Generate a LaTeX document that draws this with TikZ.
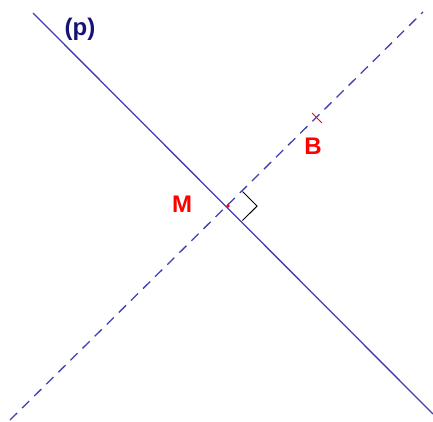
\documentclass[tikz,border=0pt]{standalone}
\usepackage{fontspec}
\setmainfont{Liberation Sans}
\usepackage{xcolor}
\usepackage{tikz}
\usetikzlibrary{calc}

\definecolor{lineblue}{RGB}{64,64,176}
\definecolor{labnavy}{RGB}{20,20,120}
\definecolor{ptred}{RGB}{255,0,0}

\begin{document}
\begin{tikzpicture}[x=1pt,y=-1pt,
  line/.style={draw=lineblue,line width=1.3pt},
  dashline/.style={line,dash pattern=on 10pt off 7pt},
  lbl/.style={font=\bfseries\fontsize{24}{24}\selectfont,text=ptred,inner sep=0pt}
]
\useasboundingbox (0,0) rectangle (433,421);

% the line (p) and the dashed line through M and B
\coordinate (p1) at (33,13);
\coordinate (p2) at (433,414);
\coordinate (d1) at (10,420);
\coordinate (d2) at (423,12);
\coordinate (M) at (228,206);
\coordinate (B) at (317,118);

\draw[line] (p1) -- (p2);
\draw[dashline] (d1) -- (d2);

% right angle mark
\draw[black,line width=1pt] ($(M)!20.5pt!(d2)$) -- ++(14.5,14.5) -- ($(M)!20.5pt!(p2)$);

% points
\fill[ptred] (M) circle (1.8pt);
\draw[ptred,line width=1pt] ($(B)!7pt!90:(d2)$) -- ($(B)!7pt!-90:(d2)$);

% labels
\node[lbl] (labM) at (182,204) {M};
\node[lbl] (labB) at (313,146) {B};
\node[lbl,text=labnavy] (labp) at (80,29) {(p)};
\end{tikzpicture}
\end{document}
